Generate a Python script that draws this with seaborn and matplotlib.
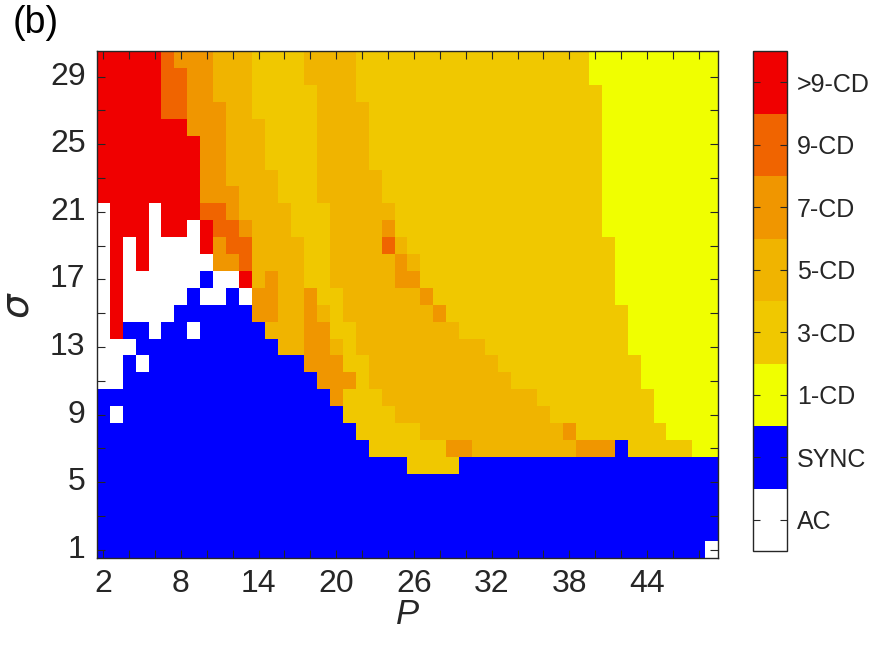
import numpy as np
import matplotlib
matplotlib.use("Agg")
import matplotlib.pyplot as plt
from matplotlib.colors import ListedColormap
import seaborn as sns

# state categories (colorbar order, bottom to top)
states = ["AC", "SYNC", "1-CD", "3-CD", "5-CD", "7-CD", "9-CD", ">9-CD"]
state_codes = ["A", "S", "1", "3", "5", "7", "9", "R"]
state_colors = ["#FFFFFF", "#0000FF", "#F0FF00", "#F0C800",
                "#F0B400", "#F09600", "#F06400", "#F00000"]

P_values = list(range(2, 50))
sigma_values = list(range(30, 0, -1))   # top row first

P_tick_labels = [2, 8, 14, 20, 26, 32, 38, 44]
sigma_tick_labels = [1, 5, 9, 13, 17, 21, 25, 29]

# one string per sigma row (sigma=30 at top), one char per P (2..49), groups of 6
state_rows = [
    "RRRRR9 777555 333355 553333 333333 333333 331111 111111",  # 30
    "RRRRR9 977555 333355 553333 333333 333333 331111 111111",  # 29
    "RRRRR9 977555 333335 553333 333333 333333 333111 111111",  # 28
    "RRRRR9 977755 333335 555333 333333 333333 333111 111111",  # 27
    "RRRRRR R77755 533335 555333 333333 333333 333111 111111",  # 26
    "RRRRRR RR7755 533335 555333 333333 333333 333111 111111",  # 25
    "RRRRRR RR7755 533335 555333 333333 333333 333111 111111",  # 24
    "RRRRRR RR7755 553335 555533 333333 333333 333111 111111",  # 23
    "RRRRRR RR7775 553335 555533 333333 333333 333111 111111",  # 22
    "ARRRAR RR9975 555333 555553 333333 333333 333111 111111",  # 21
    "ARRRAR RAR997 555333 555573 333333 333333 333111 111111",  # 20
    "ARARAA AAR799 555533 555595 333333 333333 333311 111111",  # 19
    "ARARAA AAA779 555533 555557 533333 333333 333311 111111",  # 18
    "ARAAAA AASAAR 575533 555557 733333 333333 333311 111111",  # 17
    "ARAAAA ASAASA 775573 355555 573333 333333 333311 111111",  # 16
    "ARAAAA SSSSSS 775575 355555 557333 333333 333331 111111",  # 15
    "ARSSAS SASSSS S55577 335555 555533 333333 333331 111111",  # 14
    "AAASSS SSSSSS SS5577 535555 555555 333333 333331 111111",  # 13
    "AASASS SSSSSS SSSS77 733555 555555 533333 333333 111111",  # 12
    "AASSSS SSSSSS SSSSS7 773555 555555 553333 333333 111111",  # 11
    "SSSSSS SSSSSS SSSSSS 733355 555555 555533 333333 311111",  # 10
    "SASSSS SSSSSS SSSSSS S33335 555555 555553 333333 311111",  # 9
    "SSSSSS SSSSSS SSSSSS SS3333 355555 555555 733333 331111",  # 8
    "SSSSSS SSSSSS SSSSSS SSS333 333775 555555 5777S3 333311",  # 7
    "SSSSSS SSSSSS SSSSSS SSSSSS 3333SS SSSSSS SSSSSS SSSSSS",  # 6
    "SSSSSS SSSSSS SSSSSS SSSSSS SSSSSS SSSSSS SSSSSS SSSSSS",  # 5
    "SSSSSS SSSSSS SSSSSS SSSSSS SSSSSS SSSSSS SSSSSS SSSSSS",  # 4
    "SSSSSS SSSSSS SSSSSS SSSSSS SSSSSS SSSSSS SSSSSS SSSSSS",  # 3
    "SSSSSS SSSSSS SSSSSS SSSSSS SSSSSS SSSSSS SSSSSS SSSSSS",  # 2
    "SSSSSS SSSSSS SSSSSS SSSSSS SSSSSS SSSSSS SSSSSS SSSSSA",  # 1
]

code_index = {c: k for k, c in enumerate(state_codes)}
grid = np.array([[code_index[c] for c in row.replace(" ", "")] for row in state_rows])
assert grid.shape == (len(sigma_values), len(P_values))

plt.rcParams['font.family'] = ['Liberation Sans', 'DejaVu Sans']
plt.rcParams['mathtext.fontset'] = 'dejavusans'
text_color = '#262626'

fig = plt.figure(figsize=(8.75, 6.56), dpi=100)
W, H = 875, 656
ax = fig.add_axes([96.7 / W, 1 - 558.3 / H, 621.6 / W, 507 / H])
cax = fig.add_axes([753.3 / W, 1 - 551 / H, 34 / W, 500 / H])

sns.heatmap(grid, ax=ax, cbar_ax=cax, cmap=ListedColormap(state_colors),
            vmin=-0.5, vmax=len(states) - 0.5, cbar=True)

x_of = {p: j + 0.5 for j, p in enumerate(P_values)}
y_of = {s: i + 0.5 for i, s in enumerate(sigma_values)}
ax.set_xticks([x_of[p] for p in P_tick_labels])
ax.set_xticklabels([str(p) for p in P_tick_labels], rotation=0)
ax.set_xticks([x_of[p] for p in P_values if p % 2 == 0], minor=True)
ax.set_yticks([y_of[s] for s in sigma_tick_labels])
ax.set_yticklabels([str(s) for s in sigma_tick_labels], rotation=0)
ax.set_yticks([y_of[s] for s in sigma_values if s % 2 == 1], minor=True)

ax.tick_params(which='both', direction='in', length=6, width=0.8,
               top=True, right=True, color=text_color)
ax.tick_params(which='major', labelsize=23, labelcolor=text_color, pad=8)
for sp in ax.spines.values():
    sp.set_visible(True)
    sp.set_linewidth(1.0)
    sp.set_color(text_color)

ax.set_xlabel('P', fontstyle='italic', fontsize=25, color=text_color, labelpad=-1)
ax.set_ylabel(r'$\sigma$', fontsize=28, color=text_color, labelpad=10)

cbar = ax.collections[0].colorbar
cbar.set_ticks(range(len(states)))
cbar.set_ticklabels(states)
cbar.outline.set_visible(True)
cbar.outline.set_linewidth(1.0)
cbar.outline.set_edgecolor(text_color)
cax.tick_params(direction='in', length=5, width=0.8, left=True, right=True,
                color=text_color, labelsize=18, labelcolor=text_color, pad=7)

fig.text(13 / W, 1 - 5 / H, '(b)', fontsize=27, color='black', ha='left', va='top')

fig.savefig('out.png', dpi=100)
